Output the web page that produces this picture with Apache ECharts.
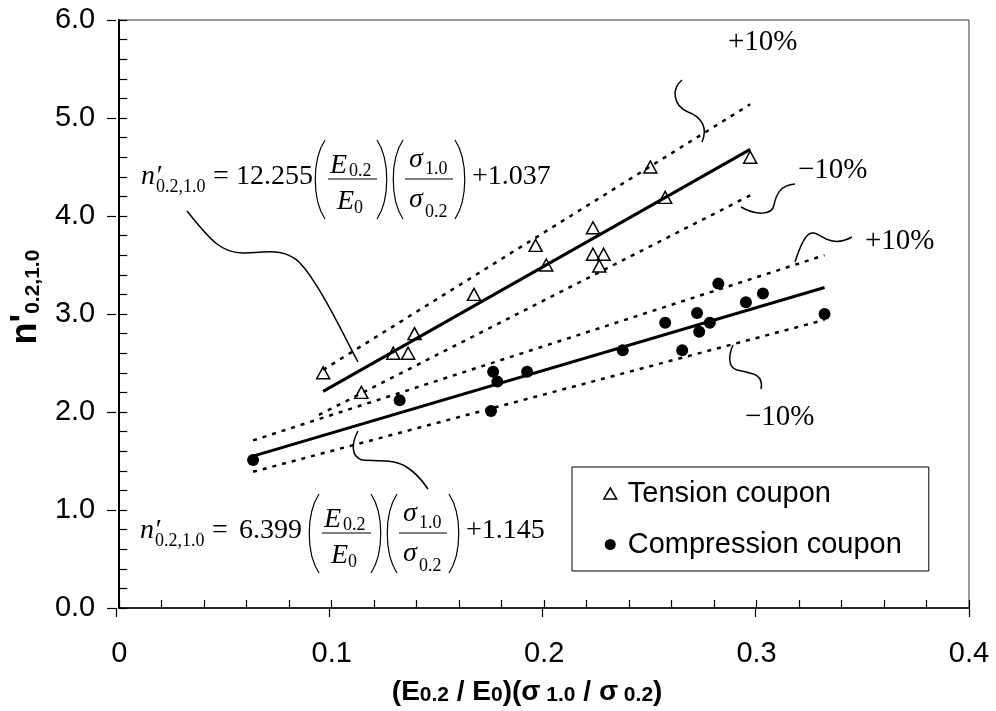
<!DOCTYPE html>
<html>
<head>
<meta charset="utf-8">
<script src="https://cdn.jsdelivr.net/npm/echarts@6/dist/echarts.min.js"></script>
<style>
html, body { margin: 0; padding: 0; background: #fff; }
#chart { width: 996px; height: 711px; }
</style>
</head>
<body>
<div id="chart"></div>
<script>
// test data
const tensionX = [0.096, 0.114, 0.129, 0.136, 0.139, 0.167, 0.196, 0.201, 0.223, 0.223, 0.228, 0.226, 0.250, 0.257, 0.297];
const tensionY = [2.40, 2.20, 2.60, 2.60, 2.80, 3.20, 3.70, 3.50, 3.88, 3.61, 3.61, 3.49, 4.50, 4.19, 4.60];
const compressionX = [0.063, 0.132, 0.175, 0.176, 0.178, 0.192, 0.237, 0.257, 0.265, 0.272, 0.273, 0.278, 0.282, 0.295, 0.303, 0.332];
const compressionY = [1.51, 2.12, 2.01, 2.41, 2.31, 2.41, 2.63, 2.91, 2.63, 3.01, 2.82, 2.91, 3.31, 3.12, 3.21, 3.00];

// end points of the fitted lines and the +/-10% bands
const tensionFit = [[0.096, 2.21], [0.297, 4.68]];
const tensionUpper = [[0.096, 2.43], [0.297, 5.14]];
const tensionLower = [[0.094, 1.97], [0.297, 4.21]];
const compressionFit = [[0.063, 1.55], [0.332, 3.27]];
const compressionUpper = [[0.063, 1.71], [0.332, 3.60]];
const compressionLower = [[0.063, 1.39], [0.332, 2.94]];

const SERIF = '"Liberation Serif", "Times New Roman", serif';
const SANS = '"Liberation Sans", Arial, sans-serif';

function txt(x, y, s, font) {
    return { type: 'text', x: x, y: y, silent: true, z: 10,
        style: { text: s, font: font, fill: '#000', align: 'left', verticalAlign: 'middle' } };
}
function seg(x1, y1, c1x, c1y, c2x, c2y, x2, y2, w) {
    return { type: 'bezierCurve', silent: true, z: 10,
        shape: { x1: x1, y1: y1, cpx1: c1x, cpy1: c1y, cpx2: c2x, cpy2: c2y, x2: x2, y2: y2 },
        style: { stroke: '#000', lineWidth: w || 1.5, fill: null } };
}
// chain of cubic segments: [x0,y0, c1x,c1y,c2x,c2y,x1,y1, ...]
function curve(p) {
    const out = [];
    for (let i = 0; i + 7 < p.length; i += 6) {
        out.push(seg(p[i], p[i + 1], p[i + 2], p[i + 3], p[i + 4], p[i + 5], p[i + 6], p[i + 7]));
    }
    return out;
}
function hline(x1, x2, y) {
    return { type: 'line', silent: true, z: 10, shape: { x1: x1, y1: y, x2: x2, y2: y },
        style: { stroke: '#000', lineWidth: 1.2 } };
}
function lparen(x, top, bottom) {
    const h = bottom - top;
    return seg(x + 12, top, x - 1, top + h * 0.25, x - 1, bottom - h * 0.25, x + 12, bottom, 1.2);
}
function rparen(x, top, bottom) {
    const h = bottom - top;
    return seg(x, top, x + 13, top + h * 0.25, x + 13, bottom - h * 0.25, x, bottom, 1.2);
}

// n'0.2,1.0 = k (E0.2/E0)(s1.0/s0.2) + b
function equation(x0, my, coef, coefX, intercept, px) {
    const it = 'italic 28px ' + SERIF;
    const rm = '28px ' + SERIF;
    const sub = '18px ' + SERIF;
    return [
        txt(x0, my, 'n\u2032', it),
        txt(x0 + 15, my + 10, '0.2,1.0', sub),
        txt(x0 + 72, my, '=', rm),
        txt(coefX, my, coef, rm),
        lparen(px, my - 37, my + 42),
        hline(px + 15, px + 64, my + 2),
        txt(px + 17, my - 11, 'E', it),
        txt(px + 36, my - 6, '0.2', sub),
        txt(px + 24, my + 25, 'E', it),
        txt(px + 41, my + 31, '0', sub),
        rparen(px + 64, my - 37, my + 42),
        lparen(px + 78, my - 37, my + 42),
        hline(px + 92, px + 140, my + 2),
        txt(px + 96, my - 17, '\u03c3', it),
        txt(px + 112, my - 8, '1.0', sub),
        txt(px + 96, my + 23, '\u03c3', it),
        txt(px + 112, my + 35, '0.2', sub),
        rparen(px + 142, my - 37, my + 42),
        txt(px + 159, my, '+' + intercept, rm)
    ];
}

const labelFont = '29px ' + SERIF;
const graphics = [].concat(
    equation(141, 177, '12.255', 236, '1.037', 313),
    equation(140, 531, '6.399', 239, '1.145', 307),
    curve([187, 211, 210, 240, 222, 254, 245, 253, 268, 252, 285, 248, 300, 263, 318, 282, 340, 328, 358, 362]),
    curve([358, 431, 352, 442, 350, 456, 362, 460, 375, 461, 392, 459, 405, 466, 415, 472, 424, 483, 428, 489]),
    curve([682, 80, 672, 88, 672, 105, 688, 112, 702, 117, 708, 128, 702, 142]),
    curve([795, 184, 780, 185, 776, 195, 774, 205, 772, 216, 755, 215, 741, 207]),
    curve([852, 237, 845, 241, 835, 243, 826, 239, 818, 235, 812, 229, 806, 237, 801, 243, 798, 253, 795, 262]),
    curve([733, 345, 729, 354, 727, 367, 737, 370, 752, 373, 764, 374, 761, 389]),
    [
        txt(728, 42, '+10%', labelFont),
        txt(798, 170, '\u221210%', labelFont),
        txt(865, 241, '+10%', labelFont),
        txt(745, 417, '\u221210%', labelFont)
    ]
);

function pairs(xs, ys) {
    return xs.map(function(x, i) { return [x, ys[i]]; });
}
function solid(data) {
    return { type: 'line', data: data, symbol: 'none', silent: true, z: 3,
        lineStyle: { color: '#000', width: 3 } };
}
function dotted(data) {
    return { type: 'line', data: data, symbol: 'none', silent: true, z: 3,
        lineStyle: { color: '#000', width: 2.5, type: [4, 6] } };
}

const chart = echarts.init(document.getElementById('chart'));

const tickLabel = { fontSize: 29, fontFamily: SANS, color: '#000' };
const tickLine = { color: '#000', width: 1.2 };
const plotBox = { left: 116, right: 27, top: 20, bottom: 103 };

const option = {
    animation: false,
    backgroundColor: '#fff',
    grid: [
        Object.assign({ show: true, borderColor: '#333', borderWidth: 1 }, plotBox),
        // same box again, only to carry the outward half of the major ticks
        Object.assign({ show: false }, plotBox)
    ],
    legend: {
        orient: 'vertical',
        left: 572, top: 467,
        padding: [12, 27, 12, 31],
        itemGap: 22,
        itemWidth: 13, itemHeight: 11,
        borderColor: '#000', borderWidth: 1,
        backgroundColor: '#fff',
        textStyle: { fontSize: 29, fontFamily: SANS, color: '#000', padding: [0, 0, 0, 6] },
        data: [
            { name: 'Tension coupon', icon: 'triangle',
              itemStyle: { color: 'rgba(0,0,0,0)', borderColor: '#000', borderWidth: 1.5, opacity: 1 } },
            { name: 'Compression coupon', icon: 'circle',
              itemStyle: { color: '#000', borderWidth: 0, opacity: 1 } }
        ]
    },
    xAxis: [
        {
            type: 'value', gridIndex: 0, min: 0, max: 0.4, interval: 0.1, position: 'bottom',
            axisLine: { show: true, lineStyle: { color: '#000', width: 1.5 } },
            axisTick: { show: true, inside: true, length: 8, lineStyle: tickLine },
            minorTick: { show: true, splitNumber: 5, length: 8, lineStyle: tickLine },
            splitLine: { show: false },
            axisLabel: Object.assign({ margin: 31, showMinLabel: true, showMaxLabel: true,
                formatter: function(v) { return v === 0 ? '0' : String(+v.toFixed(1)); } }, tickLabel),
            name: '{b|(E}{s|0.2}{b| / E}{s|0}{b|)(\u03c3}{s| 1.0}{b| / \u03c3}{s| 0.2}{b|)}',
            nameLocation: 'middle',
            nameGap: 70,
            nameTextStyle: {
                padding: [0, 34, 0, 0],
                rich: {
                    b: { fontSize: 28, fontWeight: 'bold', fontFamily: SANS, color: '#000', lineHeight: 28 },
                    s: { fontSize: 21, fontWeight: 'bold', fontFamily: SANS, color: '#000', lineHeight: 18, verticalAlign: 'bottom' }
                }
            }
        },
        {
            type: 'value', gridIndex: 1, min: 0, max: 0.4, interval: 0.1, position: 'bottom',
            axisLine: { show: false },
            axisTick: { show: true, inside: false, length: 9, lineStyle: tickLine },
            axisLabel: { show: false },
            splitLine: { show: false }
        }
    ],
    yAxis: [
        {
            type: 'value', gridIndex: 0, min: 0, max: 6, interval: 1, position: 'left',
            axisLine: { show: true, lineStyle: { color: '#000', width: 2 } },
            axisTick: { show: true, inside: true, length: 8, lineStyle: tickLine },
            minorTick: { show: true, splitNumber: 5, length: 8, lineStyle: tickLine },
            splitLine: { show: false },
            axisLabel: Object.assign({ margin: 24, showMinLabel: true, showMaxLabel: true,
                formatter: function(v) { return v.toFixed(1); } }, tickLabel),
            name: "{n|n'}{s|0.2,1.0}",
            nameLocation: 'middle',
            nameRotate: 90,
            nameGap: 72,
            nameTextStyle: {
                padding: [0, 0, 0, 34],
                rich: {
                    n: { fontSize: 36, fontWeight: 'bold', fontFamily: SANS, color: '#000', lineHeight: 36 },
                    s: { fontSize: 21, fontWeight: 'bold', fontFamily: SANS, color: '#000', lineHeight: 17, verticalAlign: 'bottom' }
                }
            }
        },
        {
            type: 'value', gridIndex: 1, min: 0, max: 6, interval: 1, position: 'left',
            axisLine: { show: false },
            axisTick: { show: true, inside: false, length: 9, lineStyle: tickLine },
            axisLabel: { show: false },
            splitLine: { show: false }
        }
    ],
    series: [
        solid(tensionFit),
        dotted(tensionUpper),
        dotted(tensionLower),
        solid(compressionFit),
        dotted(compressionUpper),
        dotted(compressionLower),
        {
            name: 'Tension coupon',
            type: 'scatter',
            data: pairs(tensionX, tensionY),
            symbol: 'triangle',
            symbolSize: [13, 12],
            z: 5,
            itemStyle: { color: 'rgba(0,0,0,0)', borderColor: '#000', borderWidth: 1.5, opacity: 1 }
        },
        {
            name: 'Compression coupon',
            type: 'scatter',
            data: pairs(compressionX, compressionY),
            symbol: 'circle',
            symbolSize: 12,
            z: 5,
            itemStyle: { color: '#000', opacity: 1 }
        }
    ],
    graphic: graphics
};

chart.setOption(option);
</script>
</body>
</html>
